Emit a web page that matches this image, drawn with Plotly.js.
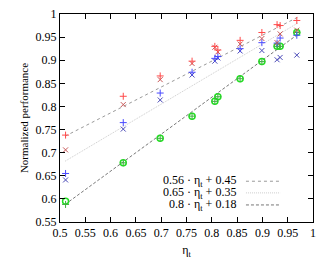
<!DOCTYPE html>
<html><head><meta charset="utf-8">
<script src="https://cdn.plot.ly/plotly-3.0.1.min.js"></script>
<style>body{margin:0;padding:0;background:#fff}#chart{width:334px;height:275px}</style>
</head><body><div id="chart"></div>
<script>
var etaX = [0.511, 0.625, 0.698, 0.761, 0.806, 0.812, 0.856, 0.899, 0.929, 0.935, 0.968];
var redPlus  = [0.738, 0.822, 0.866, 0.898, 0.930, 0.922, 0.943, 0.960, 0.977, 0.975, 0.986];
var redX     = [0.706, 0.804, 0.858, 0.893, 0.928, 0.918, 0.935, 0.947, 0.938, 0.957, 0.965];
var bluePlus = [0.655, 0.765, 0.829, 0.874, 0.904, 0.908, 0.925, 0.938, 0.937, 0.948, 0.954];
var blueX    = [0.641, 0.751, 0.814, 0.868, 0.898, 0.905, 0.920, 0.921, 0.901, 0.906, 0.911];
var greenCirc= [0.595, 0.678, 0.731, 0.779, 0.811, 0.821, 0.860, 0.897, 0.930, 0.930, 0.960];
var greenPlus= [0.588, 0.678, 0.731, 0.779, 0.811, 0.821, 0.860, 0.897, 0.930, 0.930, 0.960];
var fitSlopes = [0.56, 0.65, 0.8];
var fitIntercepts = [0.45, 0.35, 0.18];
var fitLabels = ['0.56 · η<sub>t</sub> + 0.45', '0.65 · η<sub>t</sub> + 0.35', '0.8 · η<sub>t</sub> + 0.18'];
var fitRange = [0.51, 0.97];
var xTicks = [0.5,0.55,0.6,0.65,0.7,0.75,0.8,0.85,0.9,0.95,1];
var yTicks = [0.55,0.6,0.65,0.7,0.75,0.8,0.85,0.9,0.95,1];

var fitStyles = [
  {color:'#999999', dash:'3px,3px', width:1},
  {color:'#cccccc', dash:'1px,1px', width:1},
  {color:'#777777', dash:'3px,2px', width:1}
];

var traces = [];
for (var i=0;i<3;i++){
  traces.push({x: fitRange, y: fitRange.map(function(v){return fitSlopes[i]*v+fitIntercepts[i];}),
    mode:'lines', line: fitStyles[i], showlegend:false, hoverinfo:'skip'});
}
function pts(y, sym, color, size, w){
  return {x: etaX, y: y, mode:'markers', showlegend:false,
    marker:{symbol:sym, size:size, color:color, line:{color:color, width:w}}};
}
traces.push(pts(greenCirc,'circle-open','#22e022',6,1.5));
traces.push(pts(greenPlus,'cross-thin-open','#40b040',5,1));
traces.push(pts(blueX,'x-thin-open','#4a4ab8',5,1));
traces.push(pts(bluePlus,'cross-thin-open','#4a4aff',5,1));
traces.push(pts(redX,'x-thin-open','#c85858',5,1));
traces.push(pts(redPlus,'cross-thin-open','#ff4a4a',5,1));

var font = {family:'"Liberation Serif", "DejaVu Serif", serif', size:12, color:'#000'};
var annotations = [], shapes = [];
var rowY = [0.196, 0.140, 0.082];
for (var j=0;j<3;j++){
  annotations.push({xref:'paper', yref:'paper', x:0.702, y:rowY[j], xanchor:'right', yanchor:'middle',
    text: fitLabels[j], showarrow:false, font:font});
  shapes.push({type:'line', xref:'paper', yref:'paper', x0:0.735, x1:0.870, y0:rowY[j], y1:rowY[j],
    line:fitStyles[j]});
}

var axisCommon = {showline:true, linecolor:'#000', linewidth:1, mirror:'ticks', ticks:'inside',
  ticklen:5, tickcolor:'#000', showgrid:false, zeroline:false, tickfont:font};

var layout = {
  width:334, height:275,
  margin:{l:60, r:21, t:14, b:53},
  paper_bgcolor:'#fff', plot_bgcolor:'#fff',
  font:font,
  xaxis: Object.assign({}, axisCommon, {range:[0.5,1], tickvals:xTicks, ticktext:xTicks.map(String),
    title:{text:'η<sub>t</sub>', font:font, standoff:6}}),
  yaxis: Object.assign({}, axisCommon, {range:[0.55,1], tickvals:yTicks, ticktext:yTicks.map(String),
    title:{text:'Normalized performance', font:{family:font.family, size:11, color:'#000'}, standoff:4}}),
  annotations: annotations,
  shapes: shapes
};
Plotly.newPlot('chart', traces, layout, {staticPlot:true, displayModeBar:false});
</script></body></html>
